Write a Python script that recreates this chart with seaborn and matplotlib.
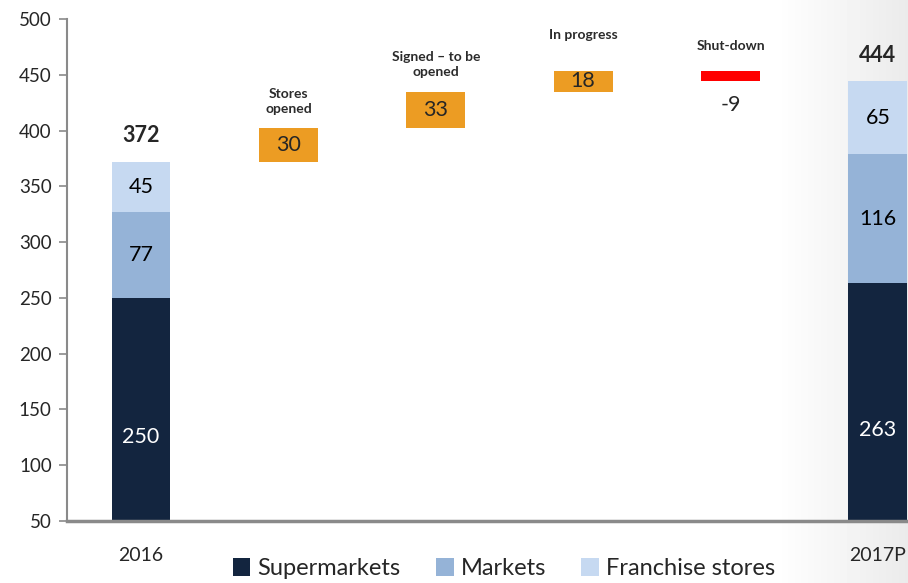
import numpy as np
import pandas as pd
import matplotlib
matplotlib.use("Agg")
import matplotlib.pyplot as plt
from matplotlib.patches import Patch
import seaborn as sns

# Store counts by year and format
years = ["2016", "2017P"]
supermarkets = [250, 263]
markets = [77, 116]
franchise = [45, 65]
totals = [372, 444]

# Movements between the two years
steps = ["Stores\nopened", "Signed – to be\nopened", "In progress", "Shut-down"]
step_values = [30, 33, 18, -9]

categories = ["2016", "s1", "s2", "s3", "s4", "2017P"]
series_names = ["Supermarkets", "Markets", "Franchise stores"]
colors = ["#13253F", "#95B3D7", "#C6D9F1"]
orange = "#EC9C23"
red = "#FF0000"

sns.set_style("white")
plt.rcParams["font.family"] = ["Lato", "DejaVu Sans"]

fig = plt.figure(figsize=(9.08, 5.83), dpi=100)

# soft grey shading toward the right edge
bg = fig.add_axes([0, 0, 1, 1], zorder=-10)
xs = np.arange(908)
shade = np.clip((xs - 775) / (908 - 775), 0, 1) * 0.08
bg.imshow(np.tile(1 - shade, (2, 1)), cmap="gray", vmin=0, vmax=1,
          aspect="auto", extent=[0, 1, 0, 1])
bg.axis("off")

ax = fig.add_axes([67 / 908, 62 / 583, 1 - 67 / 908, (521 - 19) / 583])
ax.patch.set_alpha(0)

df = pd.DataFrame({
    "year": years,
    "Supermarkets": supermarkets,
    "Markets": markets,
    "Franchise stores": franchise,
})
# stacked layers, drawn back to front as cumulative heights
cum = df[series_names].cumsum(axis=1)
for name, col in reversed(list(zip(series_names, colors))):
    sns.barplot(x=df["year"], y=cum[name], order=categories, color=col,
                width=0.4, saturation=1, ax=ax, linewidth=0)

# segment labels and totals
for i, yr in enumerate(years):
    xi = categories.index(yr)
    base = 0
    for name in series_names:
        v = df.loc[i, name]
        tc = "white" if name == "Supermarkets" else "black"
        ax.text(xi, base + v / 2, f"{v}", ha="center", va="center",
                fontsize=15.5, color=tc)
        base += v
    ax.annotate(f"{totals[i]}", (xi, totals[i]), xytext=(0, 19),
                textcoords="offset points", ha="center", va="center",
                fontsize=15.5, fontweight="bold")

# waterfall steps
level = totals[0]
label_offsets = [9.5, 9.5, 22, 14]
for k, (lab, v) in enumerate(zip(steps, step_values)):
    xi = k + 1
    lo, hi = (level, level + v) if v > 0 else (level + v, level)
    col = orange if v > 0 else red
    ax.bar(xi, hi - lo, bottom=lo, width=0.4, color=col, linewidth=0)
    if v > 0:
        ax.text(xi, (lo + hi) / 2, f"{v}", ha="center", va="center", fontsize=15.5)
    else:
        ax.annotate(f"{v}", (xi, lo), xytext=(0, -17), textcoords="offset points",
                    ha="center", va="center", fontsize=15.5)
    ax.annotate(lab, (xi, hi), xytext=(0, label_offsets[k]), textcoords="offset points",
                ha="center", va="bottom", fontsize=10, fontweight="bold",
                color="#2b2b2b", linespacing=1.35)
    level += v

ax.set_ylim(50, 500)
ax.set_xlim(-0.502, 5.204)
ax.set_yticks(np.arange(50, 501, 50))
ax.set_xticks([0, 5])
ax.set_xticklabels(years)
ax.set_xlabel("")
ax.set_ylabel("")
ax.tick_params(axis="y", labelsize=13.5, length=6, width=1.2, color="#8a8a8a",
               direction="out", left=True, pad=5)
ax.tick_params(axis="x", labelsize=14, length=0, pad=19)
for s in ["top", "right"]:
    ax.spines[s].set_visible(False)
ax.spines["left"].set_color("#8a8a8a")
ax.spines["left"].set_linewidth(1.5)
ax.spines["bottom"].set_color("#8a8a8a")
ax.spines["bottom"].set_linewidth(2.5)
ax.spines["bottom"].set_zorder(5)

handles = [Patch(facecolor=c, edgecolor="none", label=n) for n, c in zip(series_names, colors)]
fig.legend(handles=handles, loc="lower center", bbox_to_anchor=(0.555, -0.03), ncol=3,
           frameon=False, fontsize=17, handlelength=0.75, handleheight=0.75,
           handletextpad=0.3, columnspacing=1.5)

fig.savefig("out.png", dpi=100)
